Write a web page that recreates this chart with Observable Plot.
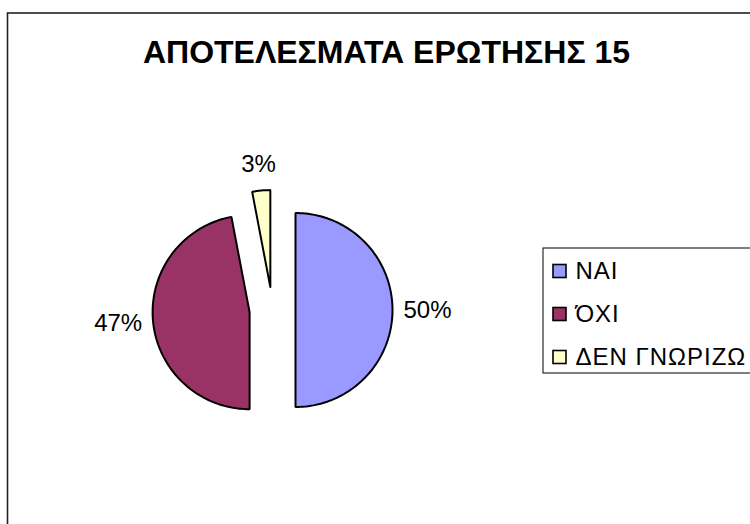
<!DOCTYPE html>
<html>
<head>
<meta charset="utf-8">
<script src="https://cdn.jsdelivr.net/npm/d3@7"></script>
<script src="https://cdn.jsdelivr.net/npm/@observablehq/plot@0.6"></script>
<style>
  html, body { margin: 0; padding: 0; background: #fff; }
  #chart svg { display: block; }
</style>
</head>
<body>
<div id="chart"></div>
<script>
// ---- data ----
const title = "ΑΠΟΤΕΛΕΣΜΑΤΑ ΕΡΩΤΗΣΗΣ 15";
const categories = ["ΝΑΙ", "ΌΧΙ", "ΔΕΝ ΓΝΩΡΙΖΩ"];
const values = [50, 47, 3];
const labels = ["50%", "47%", "3%"];
const colors = ["#9999FF", "#993366", "#FFFFCC"];

// ---- layout ----
const W = 750, H = 524;
const pie = {cx: 272, cy: 309.5, r: 97, explode: 23, gap: 11, fontSize: 24};
const legend = {x1: 543, x2: 770, y1: 248, y2: 373, swX: 553, sw: 13, textX: 575, yc0: 271, step: 43, fontSize: 24};
const font = "'Liberation Sans', Arial, sans-serif";

// ---- build slices ----
const total = d3.sum(values);
const slicePts = [];
const labelRows = [];
let cum = 0;
categories.forEach((name, i) => {
  const a0 = cum / total * 2 * Math.PI;
  cum += values[i];
  const a1 = cum / total * 2 * Math.PI;
  const am = (a0 + a1) / 2;
  const dx = Math.sin(am), dy = -Math.cos(am);
  const cx = pie.cx + pie.explode * dx, cy = pie.cy + pie.explode * dy;
  slicePts.push({name, x: cx, y: cy});
  const n = Math.max(4, Math.ceil((a1 - a0) / (2 * Math.PI) * 240));
  for (let k = 0; k <= n; k++) {
    const a = a0 + (a1 - a0) * k / n;
    slicePts.push({name, x: cx + pie.r * Math.sin(a), y: cy - pie.r * Math.cos(a)});
  }
  slicePts.push({name, x: cx, y: cy});
  const hw = (labels[i].length - 1) * 0.556 * pie.fontSize / 2 + 0.889 * pie.fontSize / 2;
  const hh = 15;
  labelRows.push({
    text: labels[i],
    x: cx + dx * (pie.r + pie.gap) + dx * hw,
    y: cy + dy * (pie.r + pie.gap) + dy * hh
  });
});

const legendRows = categories.map((name, i) => ({
  name,
  yc: legend.yc0 + i * legend.step
}));

const chart = Plot.plot({
  width: W,
  height: H,
  margin: 0,
  style: {fontFamily: font, background: "#fff"},
  x: {domain: [0, W], axis: null},
  y: {domain: [H, 0], axis: null},
  color: {type: "ordinal", domain: categories, range: colors},
  marks: [
    Plot.frame({stroke: "#222", strokeWidth: 1.6, insetLeft: 7, insetTop: 12.5, insetRight: -10, insetBottom: -10}),
    Plot.text([title], {frameAnchor: "top", dx: 386 - W / 2, dy: 52, text: d => d, fontSize: 32, fontWeight: "bold", fill: "#000", lineAnchor: "middle"}),
    Plot.line(slicePts, {x: "x", y: "y", z: "name", fill: "name", stroke: "#000", strokeWidth: 2, strokeLinejoin: "miter", curve: "linear"}),
    Plot.text(labelRows, {x: "x", y: "y", text: "text", fontSize: pie.fontSize, fill: "#000", textAnchor: "middle", lineAnchor: "middle"}),
    Plot.rect([legend], {x1: "x1", x2: "x2", y1: "y1", y2: "y2", fill: "#fff", stroke: "#000", strokeWidth: 1}),
    Plot.rect(legendRows, {x1: () => legend.swX, x2: () => legend.swX + legend.sw, y1: d => d.yc - legend.sw / 2, y2: d => d.yc + legend.sw / 2, fill: "name", stroke: "#000", strokeWidth: 1.6}),
    Plot.text(legendRows, {x: () => legend.textX, y: "yc", text: "name", fontSize: legend.fontSize, fill: "#000", textAnchor: "start", lineAnchor: "middle"})
  ]
});
d3.select(chart).selectAll("text")
  .filter(function () { return categories.includes(this.textContent); })
  .style("letter-spacing", "1px");
document.getElementById("chart").appendChild(chart);
</script>
</body>
</html>
